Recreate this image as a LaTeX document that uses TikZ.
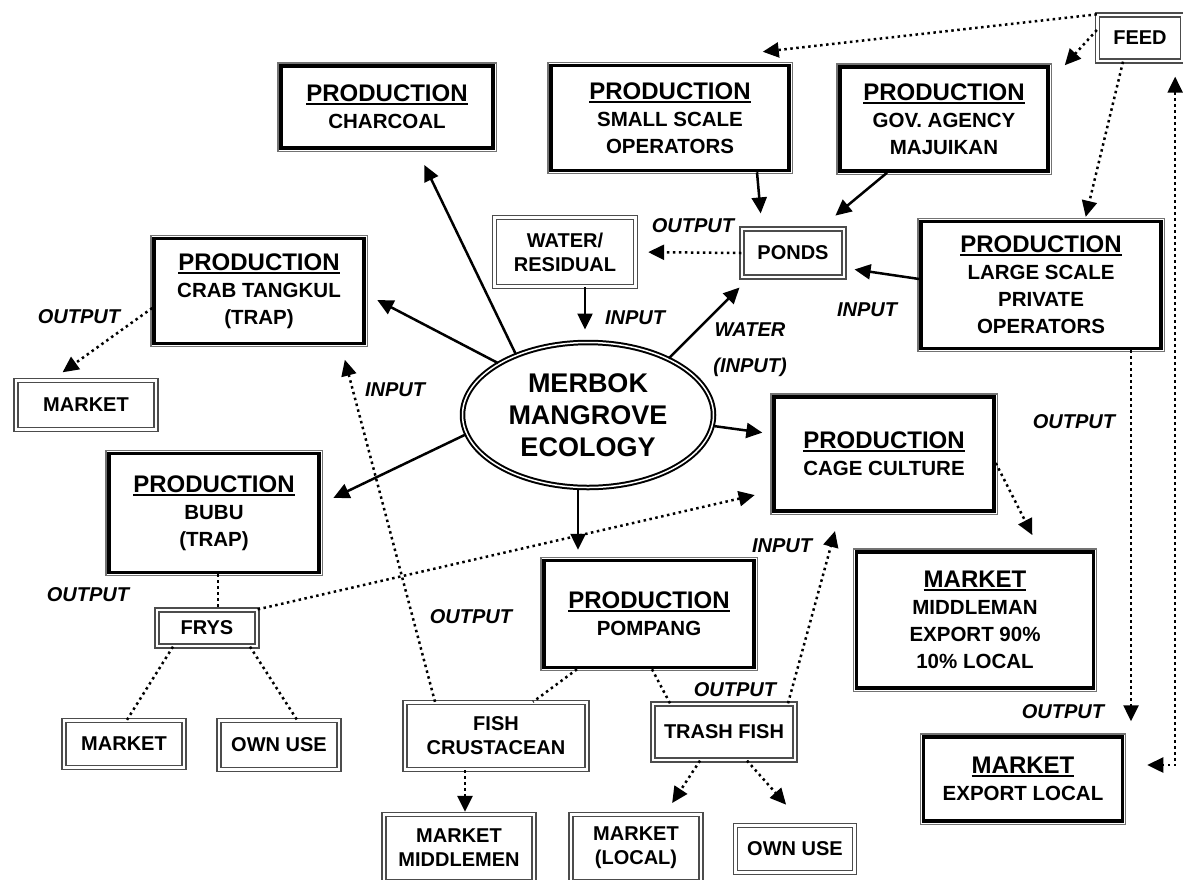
\documentclass[tikz,border=0pt]{standalone}
\usepackage{fontspec}
\setmainfont{Liberation Sans}
\usetikzlibrary{arrows.meta,shapes.geometric}
\newcommand{\headline}[1]{\setbox0=\hbox{#1}\rlap{\rule[-3.5pt]{\wd0}{1.8pt}}\box0}
\newcommand{\prodhead}[1]{{\fontsize{24}{27}\selectfont\headline{#1}}}
\tikzset{
  prod/.style={draw=black, line width=3.5pt, fill=white, align=center, inner sep=0pt,
    font=\fontsize{20.5}{27}\selectfont\bfseries,
    preaction={draw=black!55, line width=7.5pt},
    preaction={draw=white, line width=5pt}},
  small/.style={draw=black!70, double=white, double distance=2.5pt, line width=1.3pt,
    fill=white, align=center, inner sep=0pt, font=\fontsize{20}{24}\selectfont\bfseries},
  eco/.style={ellipse, draw=black, double=white, double distance=1.5pt, line width=2pt,
    fill=white, align=center, inner sep=0pt, font=\fontsize{27}{32}\selectfont\bfseries},
  lab/.style={inner sep=0pt, font=\fontsize{20}{24}\selectfont\bfseries\itshape},
  arr/.style={line width=2.5pt, -{Triangle[length=16pt,width=15pt]}},
  dotline/.style={line width=2.5pt, dash pattern=on 2.5pt off 3.5pt},
  dotarr/.style={dotline, -{Triangle[length=16pt,width=15pt]}}
}
\begin{document}
\begin{tikzpicture}[x=1pt,y=-1pt]
      \useasboundingbox (0,0) rectangle (1183,879);
      \draw
        (387,107) node[prod, minimum width=212pt, minimum height=82pt] (charcoal) {\prodhead{PRODUCTION}\\CHARCOAL}
        (670,118) node[prod, minimum width=238pt, minimum height=105pt] (small) {\prodhead{PRODUCTION}\\SMALL SCALE\\OPERATORS}
        (944,119) node[prod, minimum width=208pt, minimum height=104pt] (gov) {\prodhead{PRODUCTION}\\GOV. AGENCY\\MAJUIKAN}
        (1140,38) node[small, minimum width=85pt, minimum height=46pt] (feed) {FEED}
        (565,252) node[small, minimum width=141pt, minimum height=69pt] (water) {WATER/\\RESIDUAL}
        (793,253) node[small, minimum width=102pt, minimum height=48pt] (ponds) {PONDS}
        (1041,285) node[prod, minimum width=240pt, minimum height=127pt] (large) {\prodhead{PRODUCTION}\\LARGE SCALE\\PRIVATE\\OPERATORS}
        (259,291) node[prod, minimum width=210pt, minimum height=105pt] (crab) {\prodhead{PRODUCTION}\\CRAB TANGKUL\\(TRAP)}
        (86,405) node[small, minimum width=140pt, minimum height=49pt] (marketa) {MARKET}
        (588,415) node[eco, minimum width=251pt, minimum height=145pt] (eco) {MERBOK\\MANGROVE\\ECOLOGY}
        (884,454) node[prod, minimum width=220pt, minimum height=114pt] (cage) {\prodhead{PRODUCTION}\\CAGE CULTURE}
        (214,513) node[prod, minimum width=210pt, minimum height=119pt] (bubu) {\prodhead{PRODUCTION}\\BUBU\\(TRAP)}
        (207,628) node[small, minimum width=100pt, minimum height=36pt] (frys) {FRYS}
        (124,744) node[small, minimum width=120pt, minimum height=47pt] (marketb) {MARKET}
        (279,745) node[small, minimum width=120pt, minimum height=49pt] (ownusea) {OWN USE}
        (649,614) node[prod, minimum width=210pt, minimum height=107pt] (pompang) {\prodhead{PRODUCTION}\\POMPANG}
        (496,736) node[small, minimum width=182pt, minimum height=67pt] (fish) {FISH\\CRUSTACEAN}
        (724,732) node[small, minimum width=142pt, minimum height=56pt] (trash) {TRASH FISH}
        (459,848) node[small, minimum width=150pt, minimum height=67pt] (middlemen) {MARKET\\MIDDLEMEN}
        (636,848) node[small, minimum width=130pt, minimum height=67pt] (local) {MARKET\\(LOCAL)}
        (795,849) node[small, minimum width=119pt, minimum height=47pt] (ownuseb) {OWN USE}
        (975,620) node[prod, minimum width=237pt, minimum height=136pt] (middleman) {\prodhead{MARKET}\\MIDDLEMAN\\EXPORT 90\%\\10\% LOCAL}
        (1023,779) node[prod, minimum width=199pt, minimum height=84pt] (exportlocal) {\prodhead{MARKET}\\EXPORT LOCAL};
      % labels on the flows
      \draw
        (693,226) node[lab] (lout1) {OUTPUT}
        (635,318) node[lab] (lin1) {INPUT}
        (750,330) node[lab] (lwater) {WATER}
        (750,367) node[lab] (lwin) {(INPUT)}
        (867,310) node[lab] (lin2) {INPUT}
        (79,317) node[lab] (lout2) {OUTPUT}
        (395,390) node[lab] (lin3) {INPUT}
        (1074,422) node[lab] (lout3) {OUTPUT}
        (88,595) node[lab] (lout4) {OUTPUT}
        (782,546) node[lab] (lin4) {INPUT}
        (471,617) node[lab] (lout5) {OUTPUT}
        (735,690) node[lab] (lout6) {OUTPUT}
        (1063,712) node[lab] (lout7) {OUTPUT};
      \begin{scope}[arr]
        \draw[shorten >=17pt] (eco.140) to ([xshift=30pt]charcoal.south);
        \draw[shorten >=13pt] (eco.150) to ([yshift=-3pt]crab.east);
        \draw[shorten >=14pt] (eco.189) to ([yshift=9pt]bubu.east);
        \draw[shorten >=9pt] ([xshift=-10pt]eco.south) to ([xshift=-71pt]pompang.north);
        \draw[shorten >=10pt] (eco.-5) to ([yshift=20pt]cage.west);
        \draw[shorten >=14pt] (eco.35) to ([xshift=8pt]ponds.south west);
        \draw[shorten >=12pt] ([xshift=20pt]water.south) to ([xshift=-3pt]eco.north);
        \draw[shorten >=15pt] ([xshift=87pt]small.south) to ([xshift=-31pt]ponds.north);
        \draw[shorten >=20pt] ([xshift=-57pt]gov.south) to ([xshift=27pt]ponds.north);
        \draw[shorten >=10pt] ([yshift=6pt]large.west) to ([yshift=-15pt]ponds.east);
      \end{scope}
      \begin{scope}[dotarr]
        \draw[shorten >=12pt] (ponds.west) to (water.east);
        \draw (feed.north west) to ([xshift=-28pt,yshift=12pt]small.north east);
        \draw ([yshift=8pt]feed.west) to ([xshift=15pt]gov.north east);
        \draw[shorten >=3pt] ([xshift=-17pt]feed.south) to ([xshift=44pt]large.north);
        \draw[{Triangle[length=16pt,width=15pt]}-{Triangle[length=16pt,width=15pt]}, shorten <=15pt]
          ([xshift=-8pt]feed.south east) |- ([xshift=23pt,yshift=14pt]exportlocal.east);
        \draw[shorten >=14pt] ([xshift=90pt]large.south) to ([xshift=90pt]large.south |- exportlocal.north);
        \draw[shorten >=17pt] ([yshift=-9pt]cage.east) to ([xshift=65pt]middleman.north);
        \draw[shorten >=19pt] ([xshift=64pt]trash.north) to ([xshift=-44pt]cage.south);
        \draw[shorten >=15pt] ([xshift=-61pt]fish.north) to ([xshift=82pt]crab.south);
        \draw[shorten >=18pt] (frys.north east) to ([yshift=-37pt]cage.west);
        \draw[shorten >=2pt] ([xshift=-31pt]fish.south) to ([xshift=6pt]middlemen.north);
        \draw[shorten >=13pt] ([xshift=-24pt]trash.south) to ([xshift=29pt]local.north);
        \draw[shorten >=27pt] ([xshift=23pt]trash.south) to ([xshift=9pt]ownuseb.north);
        \draw[shorten >=13pt] ([yshift=-17pt]crab.west) to ([xshift=-34pt]marketa.north);
      \end{scope}
      \begin{scope}[dotline]
        \draw ([xshift=4pt]bubu.south) to ([xshift=11pt]frys.north);
        \draw ([xshift=-34pt]frys.south) to ([xshift=3pt]marketb.north);
        \draw ([xshift=43pt]frys.south) to ([xshift=18pt]ownusea.north);
        \draw ([xshift=-72pt]pompang.south) to ([xshift=37pt]fish.north);
        \draw ([xshift=3pt]pompang.south) to ([xshift=-54pt]trash.north);
      \end{scope}
    \end{tikzpicture}
\end{document}
